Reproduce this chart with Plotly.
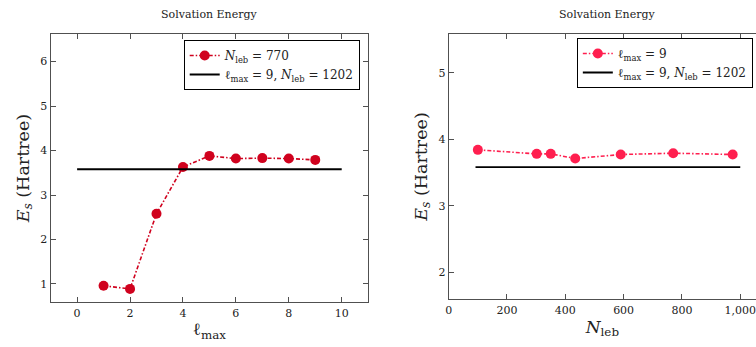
import plotly.graph_objects as go

# Left panel data: energy vs l_max at N_leb = 770
lmax = [1, 2, 3, 4, 5, 6, 7, 8, 9]
es_lmax = [0.96, 0.89, 2.58, 3.63, 3.88, 3.82, 3.83, 3.82, 3.79]
ref_x_left = [0, 10]

# Right panel data: energy vs N_leb at l_max = 9
nleb = [100, 302, 350, 434, 590, 770, 974]
es_nleb = [3.84, 3.78, 3.78, 3.71, 3.77, 3.79, 3.77]
ref_x_right = [92, 1000]

ref_value = 3.58  # l_max = 9, N_leb = 1202

red_left = "#D0021E"
red_right = "#FF1F4F"
FONT = "DejaVu Serif"
FRAME = "#505050"
TXT = "#222222"

fig = go.Figure()

fig.add_trace(go.Scatter(
    x=lmax, y=es_lmax, mode="lines+markers",
    line=dict(color=red_left, width=1.6, dash="4px,2px,1.5px,2px"),
    marker=dict(color=red_left, size=10),
    name="<i>N</i><sub>leb</sub> = 770", xaxis="x", yaxis="y", legend="legend"))
fig.add_trace(go.Scatter(
    x=ref_x_left, y=[ref_value] * len(ref_x_left), mode="lines",
    line=dict(color="black", width=1.8),
    name="ℓ<sub>max</sub> = 9, <i>N</i><sub>leb</sub> = 1202",
    xaxis="x", yaxis="y", legend="legend"))

fig.add_trace(go.Scatter(
    x=nleb, y=es_nleb, mode="lines+markers",
    line=dict(color=red_right, width=1.6, dash="4px,2px,1.5px,2px"),
    marker=dict(color=red_right, size=10),
    name="ℓ<sub>max</sub> = 9", xaxis="x2", yaxis="y2", legend="legend2"))
fig.add_trace(go.Scatter(
    x=ref_x_right, y=[ref_value] * len(ref_x_right), mode="lines",
    line=dict(color="black", width=1.8),
    name="ℓ<sub>max</sub> = 9, <i>N</i><sub>leb</sub> = 1202",
    xaxis="x2", yaxis="y2", legend="legend2"))

axis_common = dict(
    showgrid=False, zeroline=False, showline=True, linecolor=FRAME, linewidth=1.2,
    ticks="inside", ticklen=5, tickcolor=FRAME, tickwidth=1,
    tickfont=dict(family=FONT, size=11, color=TXT), automargin=False,
    ticklabeloverflow="allow",
)

fig.update_layout(
    width=756, height=347,
    margin=dict(l=0, r=0, t=0, b=0, autoexpand=False),
    paper_bgcolor="white", plot_bgcolor="white",
    font=dict(family=FONT, color=TXT),
    xaxis=dict(domain=[0.067, 0.487], range=[-1, 11], tickvals=[0, 2, 4, 6, 8, 10],
               mirror="ticks", anchor="y",
               title=dict(text="ℓ<sub>max</sub>", font=dict(family=FONT, size=17), standoff=4),
               **axis_common),
    yaxis=dict(domain=[0.129, 0.902], range=[0.59, 6.62], tickvals=[1, 2, 3, 4, 5, 6],
               mirror="ticks", anchor="x",
               title=dict(text="<i>E<sub>s</sub></i> (Hartree)", font=dict(family=FONT, size=17.5), standoff=6),
               **axis_common),
    xaxis2=dict(domain=[0.5935, 1.0], range=[0, 1054], tickvals=[0, 200, 400, 600, 800, 1000],
                tickformat=",", mirror="ticks", anchor="y2",
                title=dict(text="<i>N</i><sub>leb</sub>", font=dict(family=FONT, size=17), standoff=4),
                **axis_common),
    yaxis2=dict(domain=[0.1375, 0.903], range=[1.59, 5.59], tickvals=[2, 3, 4, 5],
                mirror=False, anchor="x2",
                title=dict(text="<i>E<sub>s</sub></i> (Hartree)", font=dict(family=FONT, size=17.5), standoff=6),
                **axis_common),
    legend=dict(x=0.243, y=(347 - 40) / 347, xanchor="left", yanchor="top",
                bordercolor="black", borderwidth=1, bgcolor="white",
                font=dict(family=FONT, size=12, color=TXT), tracegroupgap=0),
    legend2=dict(x=0.763, y=(347 - 38) / 347, xanchor="left", yanchor="top",
                 bordercolor="black", borderwidth=1, bgcolor="white",
                 font=dict(family=FONT, size=12, color=TXT), tracegroupgap=0),
    annotations=[
        dict(text="Solvation Energy", x=0.277, y=(347 - 15) / 347, xref="paper", yref="paper",
             showarrow=False, xanchor="center", yanchor="middle",
             font=dict(family=FONT, size=11, color=TXT)),
        dict(text="Solvation Energy", x=0.8034, y=(347 - 14) / 347, xref="paper", yref="paper",
             showarrow=False, xanchor="center", yanchor="middle",
             font=dict(family=FONT, size=11, color=TXT)),
    ],
    showlegend=True,
)

fig.write_html("out.html")
